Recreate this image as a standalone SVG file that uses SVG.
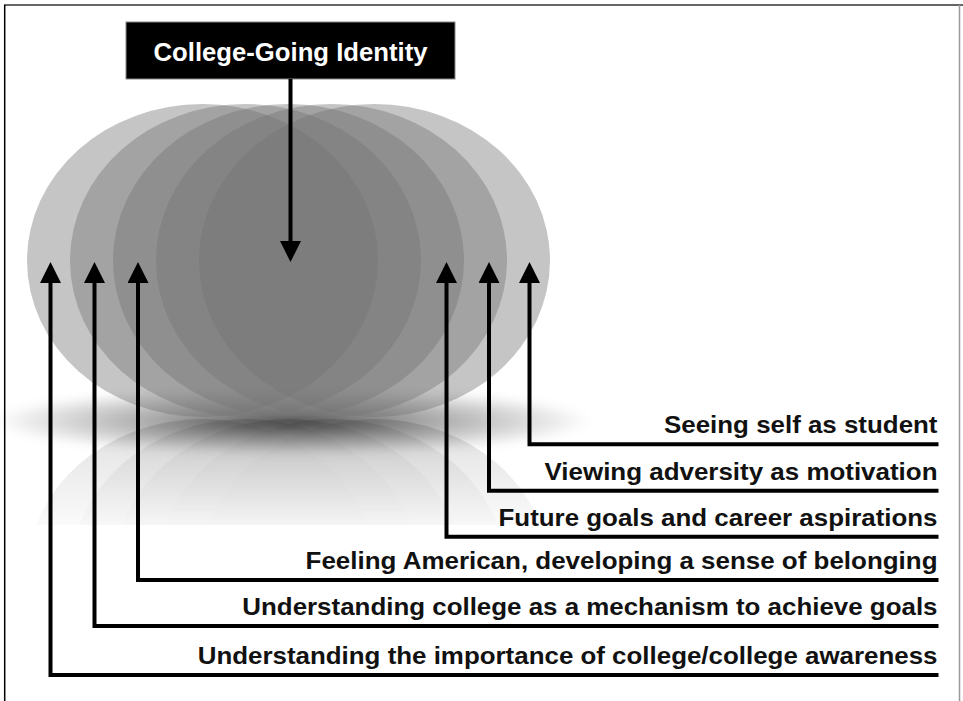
<svg xmlns="http://www.w3.org/2000/svg" width="963" height="701" viewBox="0 0 963 701">
<defs>
<style>
.orb{fill:#757575;fill-opacity:0.42}
.lbl{font-family:"Liberation Sans",Arial,Helvetica,sans-serif;font-weight:bold;font-size:24px;fill:#111}
.ttl{font-family:"Liberation Sans",Arial,Helvetica,sans-serif;font-weight:bold;font-size:25.7px;fill:#fff}
.conn{fill:none;stroke:#000;stroke-width:4;stroke-linejoin:miter}
</style>
<marker id="ah" markerUnits="userSpaceOnUse" markerWidth="21" markerHeight="21" viewBox="0 0 21 21" refX="13" refY="10.5" orient="auto-start-reverse">
<path d="M0,0 L21,10.5 L0,21 Z" fill="#000"/>
</marker>
<linearGradient id="fadeG" x1="0" y1="418" x2="0" y2="525" gradientUnits="userSpaceOnUse">
<stop offset="0" stop-color="#fff" stop-opacity="0.55"/>
<stop offset="1" stop-color="#fff" stop-opacity="0.08"/>
</linearGradient>
<mask id="reflMask" maskUnits="userSpaceOnUse" x="0" y="418" width="963" height="107">
<rect x="0" y="418" width="963" height="107" fill="url(#fadeG)"/>
</mask>
<radialGradient id="shG" cx="0.5" cy="0.5" r="0.5">
<stop offset="0" stop-color="#000" stop-opacity="0.7"/>
<stop offset="0.45" stop-color="#000" stop-opacity="0.35"/>
<stop offset="1" stop-color="#000" stop-opacity="0"/>
</radialGradient>
<filter id="blur" x="-20%" y="-50%" width="140%" height="200%"><feGaussianBlur stdDeviation="5"/></filter>
<g id="orbs">
<ellipse class="orb" cx="202.5" cy="260.5" rx="175.5" ry="156.5"/>
<ellipse class="orb" cx="245.5" cy="260.5" rx="175.5" ry="156.5"/>
<ellipse class="orb" cx="288.5" cy="260.5" rx="175.5" ry="156.5"/>
<ellipse class="orb" cx="331.5" cy="260.5" rx="175.5" ry="156.5"/>
<ellipse class="orb" cx="374.5" cy="260.5" rx="175.5" ry="156.5"/>
</g>
</defs>
<rect width="963" height="701" fill="#fff"/>
<!-- frame -->
<line x1="4" y1="5" x2="963" y2="5" stroke="#333" stroke-width="1.5"/>
<line x1="4.7" y1="5" x2="4.7" y2="701" stroke="#000" stroke-width="1.5"/>
<line x1="959.5" y1="5" x2="959.5" y2="701" stroke="#999" stroke-width="1.5"/>

<g id="identity-cluster">
<g mask="url(#reflMask)"><use href="#orbs" transform="translate(0,836) scale(1,-1)"/></g>
<ellipse cx="292" cy="421" rx="300" ry="34" fill="url(#shG)" filter="url(#blur)"/>
<use href="#orbs"/>
</g>

<g id="title-node">
<rect x="126" y="22" width="329" height="57" fill="#000" stroke="#888" stroke-width="1"/>
<text class="ttl" x="290.5" y="61" text-anchor="middle">College-Going Identity</text>
</g>

<g id="connectors">
<path class="conn" d="M290.5,79 V254" marker-end="url(#ah)"/>
<path class="conn" d="M529.5,270 V444.3 H938.5" marker-start="url(#ah)"/>
<path class="conn" d="M489,270 V490.7 H938.5" marker-start="url(#ah)"/>
<path class="conn" d="M446.5,270 V536.7 H938.5" marker-start="url(#ah)"/>
<path class="conn" d="M138,270 V580 H938.5" marker-start="url(#ah)"/>
<path class="conn" d="M94.5,270 V626 H938.5" marker-start="url(#ah)"/>
<path class="conn" d="M50.5,270 V675 H938.5" marker-start="url(#ah)"/>
</g>

<g id="label-seeing"><text class="lbl" x="664" y="433.3" textLength="273.5" lengthAdjust="spacingAndGlyphs">Seeing self as student</text></g>
<g id="label-viewing"><text class="lbl" x="544.5" y="479.7" textLength="393" lengthAdjust="spacingAndGlyphs">Viewing adversity as motivation</text></g>
<g id="label-future"><text class="lbl" x="498.5" y="525.7" textLength="439" lengthAdjust="spacingAndGlyphs">Future goals and career aspirations</text></g>
<g id="label-feeling"><text class="lbl" x="305.6" y="569" textLength="631.9" lengthAdjust="spacingAndGlyphs">Feeling American, developing a sense of belonging</text></g>
<g id="label-mechanism"><text class="lbl" x="242.3" y="615" textLength="695.2" lengthAdjust="spacingAndGlyphs">Understanding college as a mechanism to achieve goals</text></g>
<g id="label-importance"><text class="lbl" x="197.7" y="664" textLength="739.8" lengthAdjust="spacingAndGlyphs">Understanding the importance of college/college awareness</text></g>
</svg>
